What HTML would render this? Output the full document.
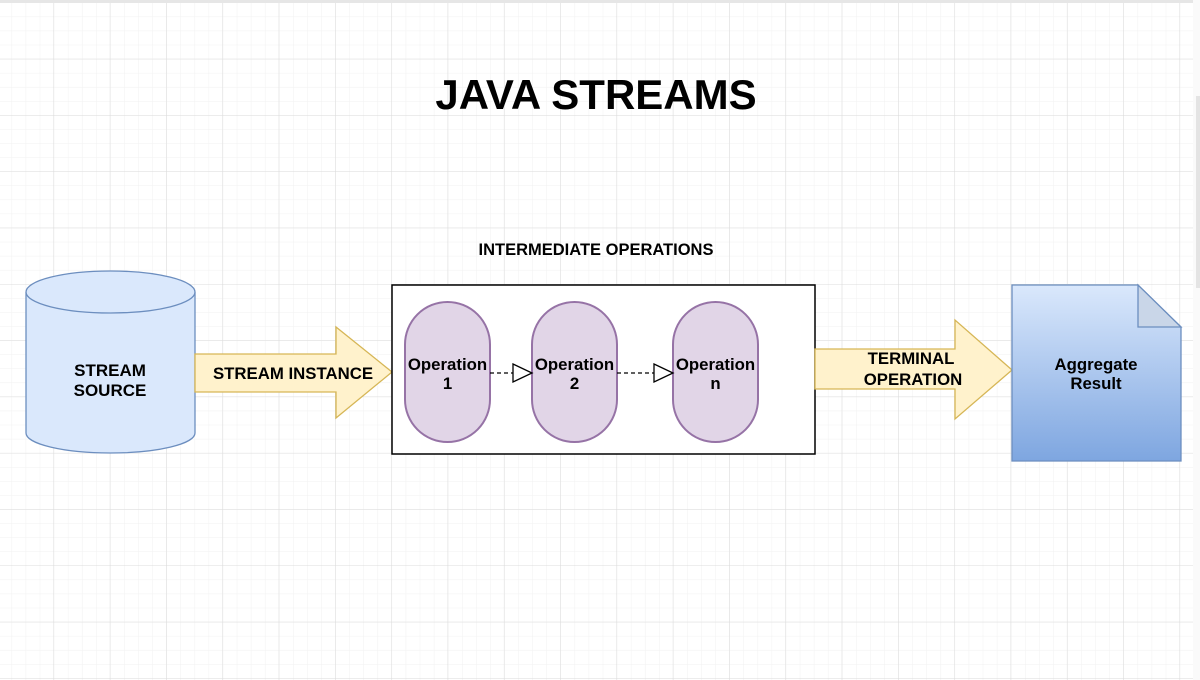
<!DOCTYPE html>
<html><head><meta charset="utf-8"><style>
html,body{margin:0;padding:0;background:#fff;}
svg{display:block;font-family:"Liberation Sans",Arial,sans-serif;font-weight:bold;}
</style></head><body>
<svg width="1200" height="680" viewBox="0 0 1200 680" xmlns="http://www.w3.org/2000/svg">
<defs>
<pattern id="minor" x="-2" y="3" width="14.075" height="14.075" patternUnits="userSpaceOnUse">
<path d="M14.075 0V14.075M0 14.075H14.075" stroke="#f1f1f1" stroke-width="1" fill="none"/>
</pattern>
<pattern id="major" x="-2.3" y="3" width="56.3" height="56.3" patternUnits="userSpaceOnUse">
<path d="M56.3 0V56.3M0 56.3H56.3" stroke="#dcdcdc" stroke-width="1" fill="none"/>
</pattern>
<linearGradient id="doc" x1="0" y1="0" x2="0" y2="1">
<stop offset="0" stop-color="#dae8fc"/><stop offset="1" stop-color="#7ea6e0"/>
</linearGradient>
</defs>
<rect x="0" y="0" width="1193" height="680" fill="url(#minor)"/>
<rect x="0" y="0" width="1193" height="680" fill="url(#major)"/>
<rect x="0" y="0" width="1200" height="3" fill="#e6e6e6"/>
<rect x="1193" y="0" width="7" height="680" fill="#fafafa"/>
<rect x="1196" y="96" width="4" height="192" fill="#e4e4e4"/>

<text x="596" y="109" font-size="42" text-anchor="middle" fill="#000">JAVA STREAMS</text>
<text x="596" y="255" font-size="16.5" text-anchor="middle" fill="#000">INTERMEDIATE OPERATIONS</text>

<!-- cylinder -->
<path d="M26 292 V433 A84.5 20 0 0 0 195 433 V292" fill="#dae8fc" stroke="#6c8ebf" stroke-width="1.3"/>
<ellipse cx="110.5" cy="292" rx="84.5" ry="21" fill="#dae8fc" stroke="#6c8ebf" stroke-width="1.3"/>
<text x="110" y="376" font-size="17" text-anchor="middle">STREAM</text>
<text x="110" y="396" font-size="17" text-anchor="middle">SOURCE</text>

<!-- arrow1 -->
<path d="M195 354 H336 V327 L392 372 L336 418 V392 H195 Z" fill="#fff2cc" stroke="#d6b656" stroke-width="1.3"/>
<text x="293" y="379" font-size="16.8" text-anchor="middle">STREAM INSTANCE</text>

<!-- box -->
<rect x="392" y="285" width="423" height="169" fill="#fff" stroke="#000" stroke-width="1.5"/>
<g fill="#e1d5e7" stroke="#9673a6" stroke-width="2">
<rect x="405" y="302" width="85" height="140" rx="42.5" ry="42.5"/>
<rect x="532" y="302" width="85" height="140" rx="42.5" ry="42.5"/>
<rect x="673" y="302" width="85" height="140" rx="42.5" ry="42.5"/>
</g>
<g font-size="16.8" text-anchor="middle">
<text x="447.5" y="370">Operation</text><text x="447.5" y="389">1</text>
<text x="574.5" y="370">Operation</text><text x="574.5" y="389">2</text>
<text x="715.5" y="370">Operation</text><text x="715.5" y="389">n</text>
</g>
<g stroke="#000" stroke-width="1.3">
<line x1="490" y1="373" x2="513" y2="373" stroke-dasharray="4 3"/>
<path d="M513 364 L532 373 L513 382 Z" fill="#fff"/>
<line x1="617" y1="373" x2="654" y2="373" stroke-dasharray="4 3"/>
<path d="M654 364 L673 373 L654 382 Z" fill="#fff"/>
</g>

<!-- arrow2 -->
<path d="M815 349 H955 V320 L1012 370 L955 419 V389 H815 Z" fill="#fff2cc" stroke="#d6b656" stroke-width="1.3"/>
<text x="911" y="364" font-size="16.8" text-anchor="middle">TERMINAL</text>
<text x="913" y="385" font-size="16.8" text-anchor="middle">OPERATION</text>

<!-- document -->
<path d="M1012 285 H1138 L1181 327 V461 H1012 Z" fill="url(#doc)" stroke="#6c8ebf" stroke-width="1.3"/>
<path d="M1138 285 V327 H1181 Z" fill="#c9d6e8" stroke="#6c8ebf" stroke-width="1.3"/>
<text x="1096" y="370" font-size="16.8" text-anchor="middle">Aggregate</text>
<text x="1096" y="389" font-size="16.8" text-anchor="middle">Result</text>
</svg>
</body></html>
